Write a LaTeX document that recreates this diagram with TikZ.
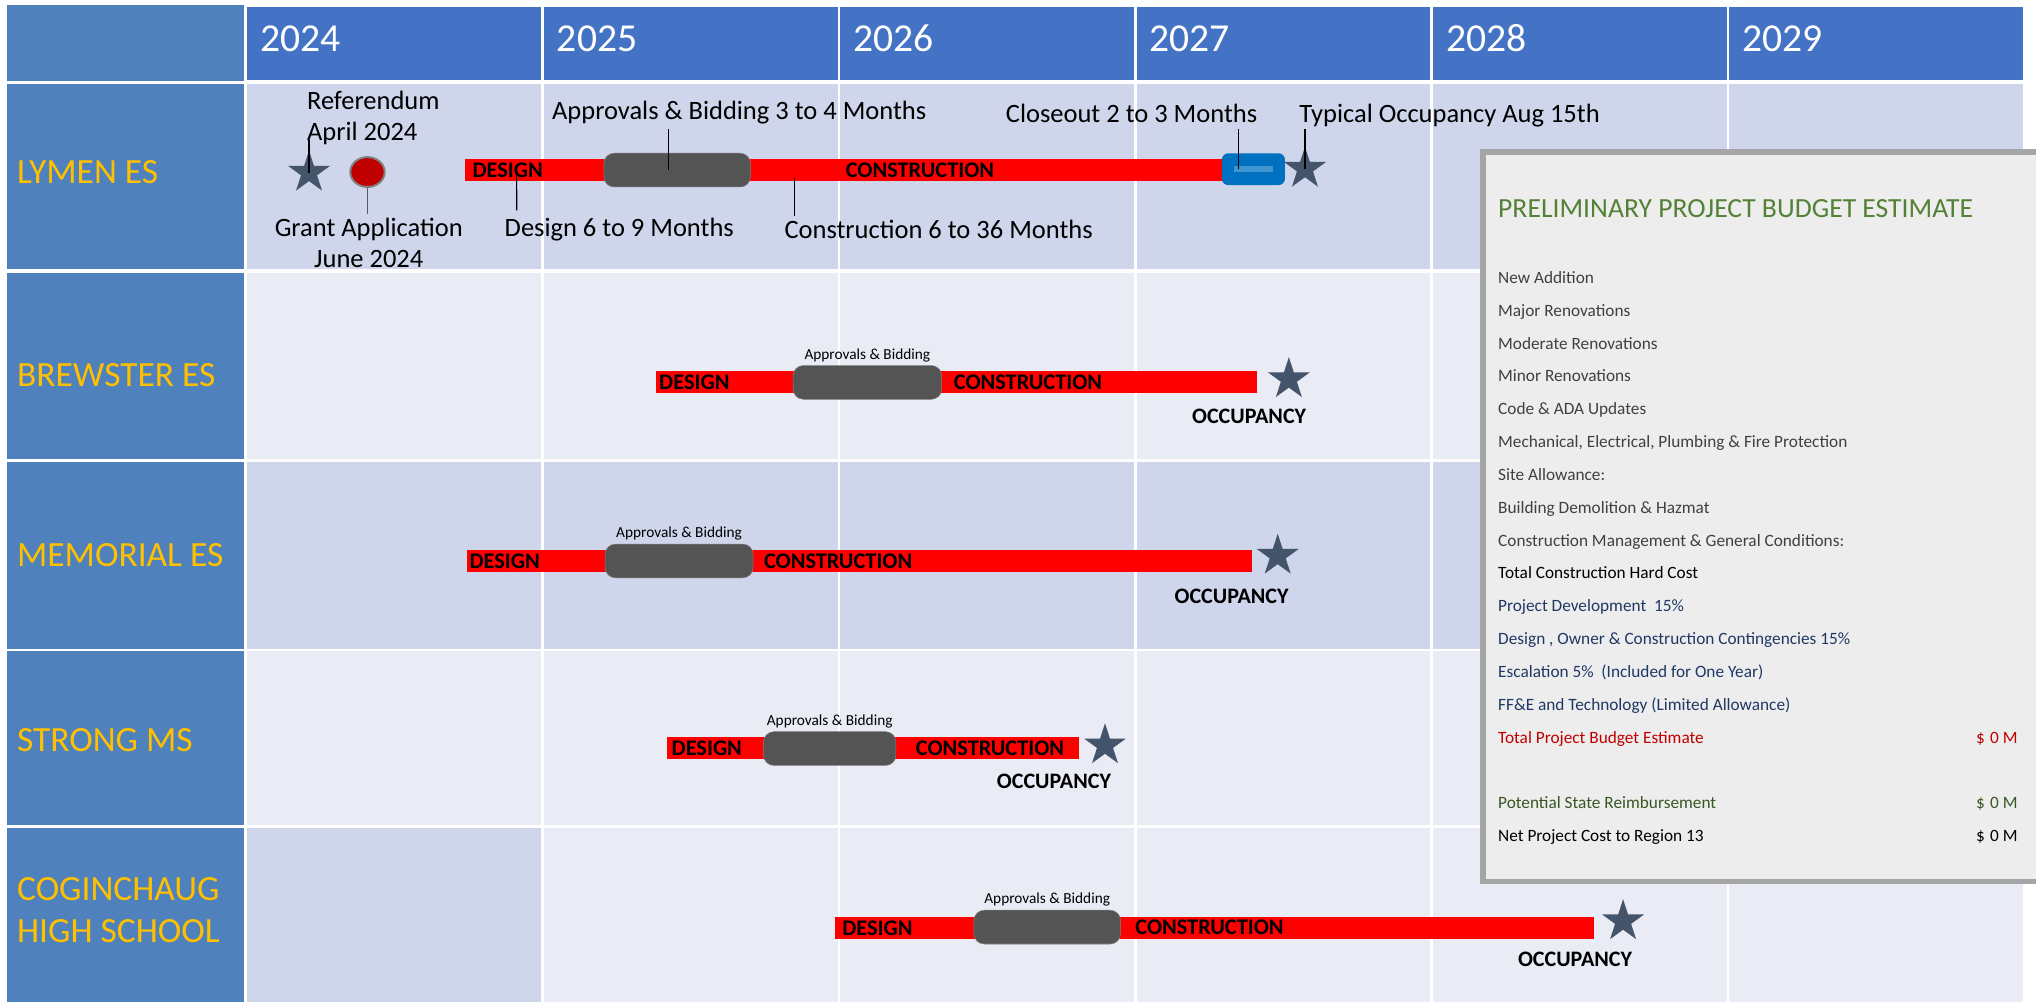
\documentclass[tikz,border=0pt]{standalone}
\usepackage{fontspec}
\setmainfont{Carlito}
\usepackage{tikz}
\usetikzlibrary{shapes.geometric,positioning}
\definecolor{hdrl}{HTML}{4F81BD}
\definecolor{hdry}{HTML}{4472C4}
\definecolor{cella}{HTML}{CFD5EA}
\definecolor{cellb}{HTML}{E9EBF5}
\definecolor{schgold}{HTML}{FFC000}
\definecolor{barred}{HTML}{FF0000}
\definecolor{aprgray}{HTML}{545454}
\definecolor{starblue}{HTML}{44546A}
\definecolor{grantred}{HTML}{C00000}
\definecolor{closeblue}{HTML}{0070C0}
\definecolor{panelbg}{HTML}{EDEDED}
\definecolor{panelbd}{HTML}{A5A5A5}
\definecolor{budgreen}{HTML}{538135}
\definecolor{budgray}{HTML}{404040}
\definecolor{budblue}{HTML}{203864}
\definecolor{budred}{HTML}{C00000}
\definecolor{budolive}{HTML}{385723}
\tikzset{
	yr_h/.style = {anchor=base west, inner sep=0pt, text=white,
		font=\fontsize{30.5}{36}\selectfont},
	sch_l/.style = {anchor=base west, inner sep=0pt, text=schgold,
		font=\fontsize{27.3}{32}\selectfont},
	bar_r/.style = {rectangle, fill=barred, inner sep=0pt, minimum height=17pt},
	apr_box/.style = {rectangle, rounded corners=8pt, fill=aprgray,
		draw=aprgray!75!white, inner sep=0pt, minimum height=26pt},
	clo_box/.style = {rectangle, rounded corners=5pt, fill=closeblue, inner sep=0pt,
		minimum width=48.6pt, minimum height=24.5pt},
	clo_in/.style = {rectangle, fill=closeblue!75!white, inner sep=0pt,
		minimum width=30pt, minimum height=4.5pt},
	grant_c/.style = {ellipse, fill=grantred, draw=gray, line width=1.5pt,
		inner sep=0pt, minimum width=26.5pt, minimum height=23pt},
	mstar/.style = {star, star points=5, star point ratio=2.618, fill=starblue,
		inner sep=0pt, minimum size=34pt},
	bar_t/.style = {anchor=west, inner sep=0pt, font=\bfseries\fontsize{17.2}{20}\selectfont},
	occ_t/.style = {anchor=base, inner sep=0pt, font=\bfseries\fontsize{17}{20}\selectfont},
	apr_t/.style = {inner sep=0pt, font=\fontsize{11.8}{14}\selectfont},
	ann_t/.style = {anchor=base west, inner sep=0pt, font=\fontsize{20.4}{24}\selectfont},
	lead/.style = {draw=black, line width=0.9pt},
	bud_p/.style = {rectangle, fill=panelbg, draw=panelbd, line width=4.4pt,
		inner sep=0pt, outer sep=0pt},
	bud_t/.style = {anchor=base west, inner sep=0pt, font=\fontsize{13.3}{16}\selectfont},
	bud_v/.style = {anchor=base east, inner sep=0pt, font=\fontsize{13.3}{16}\selectfont}
}
\begin{document}
\begin{tikzpicture}[x=1pt,y=-1pt]
\useasboundingbox (0,0) rectangle (1568,771);
\fill[hdrl] (5.4,4) rectangle (188,62.3);
\foreach \yr [count=\i from 0] in {2024,...,2029} {
	\fill[hdry] ({190.5+228.25*\i},5.7) rectangle ({188.5+228.25*(\i+1)},61.6);
	\node[yr_h] (yr\yr) at ({200.5+228.25*\i},39.8) {\yr};
}
\foreach \rt/\rb/\rc in {65/207.5/cella,210/353.5/cellb,356/499.5/cella,501.5/635.5/cellb,638/780/cellb} {
	\fill[hdrl] (5.4,\rt) rectangle (188,\rb);
	\foreach \i in {0,...,5}
		\fill[\rc] ({190.5+228.25*\i},\rt) rectangle ({188.5+228.25*(\i+1)},\rb);
}
\fill[cella] (190.5,638) rectangle (416.75,780);

\node[sch_l] (schLy) at (13,141.7) {LYMEN ES};
\node[sch_l] (schBr) at (13,297.5) {BREWSTER ES};
\node[sch_l] (schMe) at (13,436.5) {MEMORIAL ES};
\node[sch_l] (schSt) at (13,578.4) {STRONG MS};
\node[sch_l] (schCg1) at (13,693.2) {COGINCHAUG};
\node[sch_l] (schCg2) at (13,726.2) {HIGH SCHOOL};

\node[bar_r, minimum width=630pt] (lyBar) at (673,131) {};
\node[apr_box, minimum width=113pt] (lyApr) at (521.5,131) {};
\node[clo_box] (lyClo) at (965.3,130.3) {};
\node[clo_in] (lyCloIn) at (lyClo.center) {};
\node[mstar] (lyRef) at (238,133) {};
\node[grant_c] (lyGr) at (283,132.5) {};
\node[mstar] (lyOcc) at (1005,130) {};
\node[bar_t, right=6pt of lyBar.west] (lyDes) {DESIGN};
\node[bar_t, right=73pt of lyApr.east] (lyCon) {CONSTRUCTION};
\node[ann_t] (lyRefT1) at (236.3,84.2) {Referendum};
\node[ann_t] (lyRefT2) at (236.3,108.5) {April 2024};
\node[ann_t, anchor=base] (lyGrT1) at (284,182.3) {Grant Application};
\node[ann_t, anchor=base] (lyGrT2) at (284,205.7) {June 2024};
\node[ann_t] (lyDsT) at (388.5,182.3) {Design 6 to 9 Months};
\node[ann_t] (lyCnT) at (604,183.5) {Construction 6 to 36 Months};
\node[ann_t] (lyAprT) at (425,92.4) {Approvals \& Bidding 3 to 4 Months};
\node[ann_t] (lyCloT) at (774.5,94.5) {Closeout 2 to 3 Months};
\node[ann_t] (lyOccT) at (1000.5,94.5) {Typical Occupancy Aug 15th};
\coordinate (lyRefE) at (238,108);
\coordinate (lyGrE) at (283,165);
\coordinate (lyDsE) at (398,162);
\coordinate (lyAprE) at (515,99);
\coordinate (lyCnE) at (612,166);
\coordinate (lyCloE) at (954,99);
\coordinate (lyOccE) at (1005,99);
\draw[lead] (lyRef.center) -- (lyRefE);
\draw[lead, draw=black!65] (lyGr.south) -- (lyGrE);
\draw[lead] ([xshift=40pt]lyBar.west) -- (lyDsE);
\draw[lead] ([xshift=-6.5pt]lyApr.center) -- (lyAprE);
\draw[lead] ([xshift=-61pt,yshift=3pt]lyBar.south) -- (lyCnE);
\draw[lead] ([xshift=-11.3pt]lyClo.center) -- (lyCloE);
\draw[lead] (lyOcc.center) -- (lyOccE);

\node[bar_r, minimum width=463pt] (brBar) at (736.5,294) {};
\node[apr_box, minimum width=114.5pt] (brApr) at (668,294.5) {};
\node[mstar] (brOcc) at (992.6,292) {};
\node[bar_t, right=2.7pt of brBar.west] (brDes) {DESIGN};
\node[bar_t, right=9pt of brApr.east] (brCon) {CONSTRUCTION};
\node[apr_t, above=2.5pt of brApr] (brAprT) {Approvals \& Bidding};
\node[occ_t] (brOccT) at (962,326.5) {OCCUPANCY};

\node[bar_r, minimum width=604pt] (meBar) at (662,432) {};
\node[apr_box, minimum width=114pt] (meApr) at (523,432) {};
\node[mstar] (meOcc) at (984,428) {};
\node[bar_t, right=1.7pt of meBar.west] (meDes) {DESIGN};
\node[bar_t, right=8pt of meApr.east] (meCon) {CONSTRUCTION};
\node[apr_t, above=2.5pt of meApr] (meAprT) {Approvals \& Bidding};
\node[occ_t] (meOccT) at (948.5,464.6) {OCCUPANCY};

\node[bar_r, minimum width=317pt] (stBar) at (672.5,576) {};
\node[apr_box, minimum width=102pt] (stApr) at (639,576.5) {};
\node[mstar] (stOcc) at (851,574) {};
\node[bar_t, right=3.3pt of stBar.west] (stDes) {DESIGN};
\node[bar_t, right=15pt of stApr.east] (stCon) {CONSTRUCTION};
\node[apr_t, above=2.5pt of stApr] (stAprT) {Approvals \& Bidding};
\node[occ_t] (stOccT) at (811.7,607.6) {OCCUPANCY};

\node[bar_r, minimum width=584.6pt] (cgBar) at (935.3,714.5) {};
\node[apr_box, minimum width=113pt] (cgApr) at (806.5,714) {};
\node[mstar] (cgOcc) at (1250,709.5) {};
\node[bar_t, right=5.7pt of cgBar.west] (cgDes) {DESIGN};
\node[bar_t, right=11pt of cgApr.east] (cgCon) {CONSTRUCTION};
\node[apr_t, above=2.5pt of cgApr] (cgAprT) {Approvals \& Bidding};
\node[occ_t] (cgOccT) at (1213,744.5) {OCCUPANCY};

\node[bud_p, anchor=north west, minimum width=460pt, minimum height=561.6pt] (budPanel) at (1142.2,117.2) {};
\node[bud_t, text=budgreen, font=\fontsize{21.3}{25}\selectfont] (budTitle) at (1153.6,167.6) {PRELIMINARY PROJECT BUDGET ESTIMATE};
\foreach \k/\txt/\cl in {0/New Addition/budgray, 1/Major Renovations/budgray,
	2/Moderate Renovations/budgray, 3/Minor Renovations/budgray,
	4/Code \& ADA Updates/budgray,
	5/{Mechanical, Electrical, Plumbing \& Fire Protection}/budgray,
	6/Site Allowance:/budgray, 7/Building Demolition \& Hazmat/budgray,
	8/Construction Management \& General Conditions:/budgray,
	9/Total Construction Hard Cost/black,
	10/Project Development\ \ 15\%/budblue,
	11/{Design , Owner \& Construction Contingencies 15\%}/budblue,
	12/Escalation 5\%\ \ (Included for One Year)/budblue,
	13/FF\&E and Technology (Limited Allowance)/budblue,
	14/Total Project Budget Estimate/budred,
	16/Potential State Reimbursement/budolive,
	17/Net Project Cost to Region 13/black}
	\node[bud_t, text=\cl] (bud\k) at (1153.6,{218.2+25.3*\k}) {\txt};
\node[bud_v, text=budred] (budV14) at (1554,572.4) {\$\hspace{4pt}0 M};
\node[bud_v, text=budolive] (budV16) at (1554,623) {\$\hspace{4pt}0 M};
\node[bud_v, text=black] (budV17) at (1554,648.3) {\$\hspace{4pt}0 M};
\end{tikzpicture}
\end{document}
